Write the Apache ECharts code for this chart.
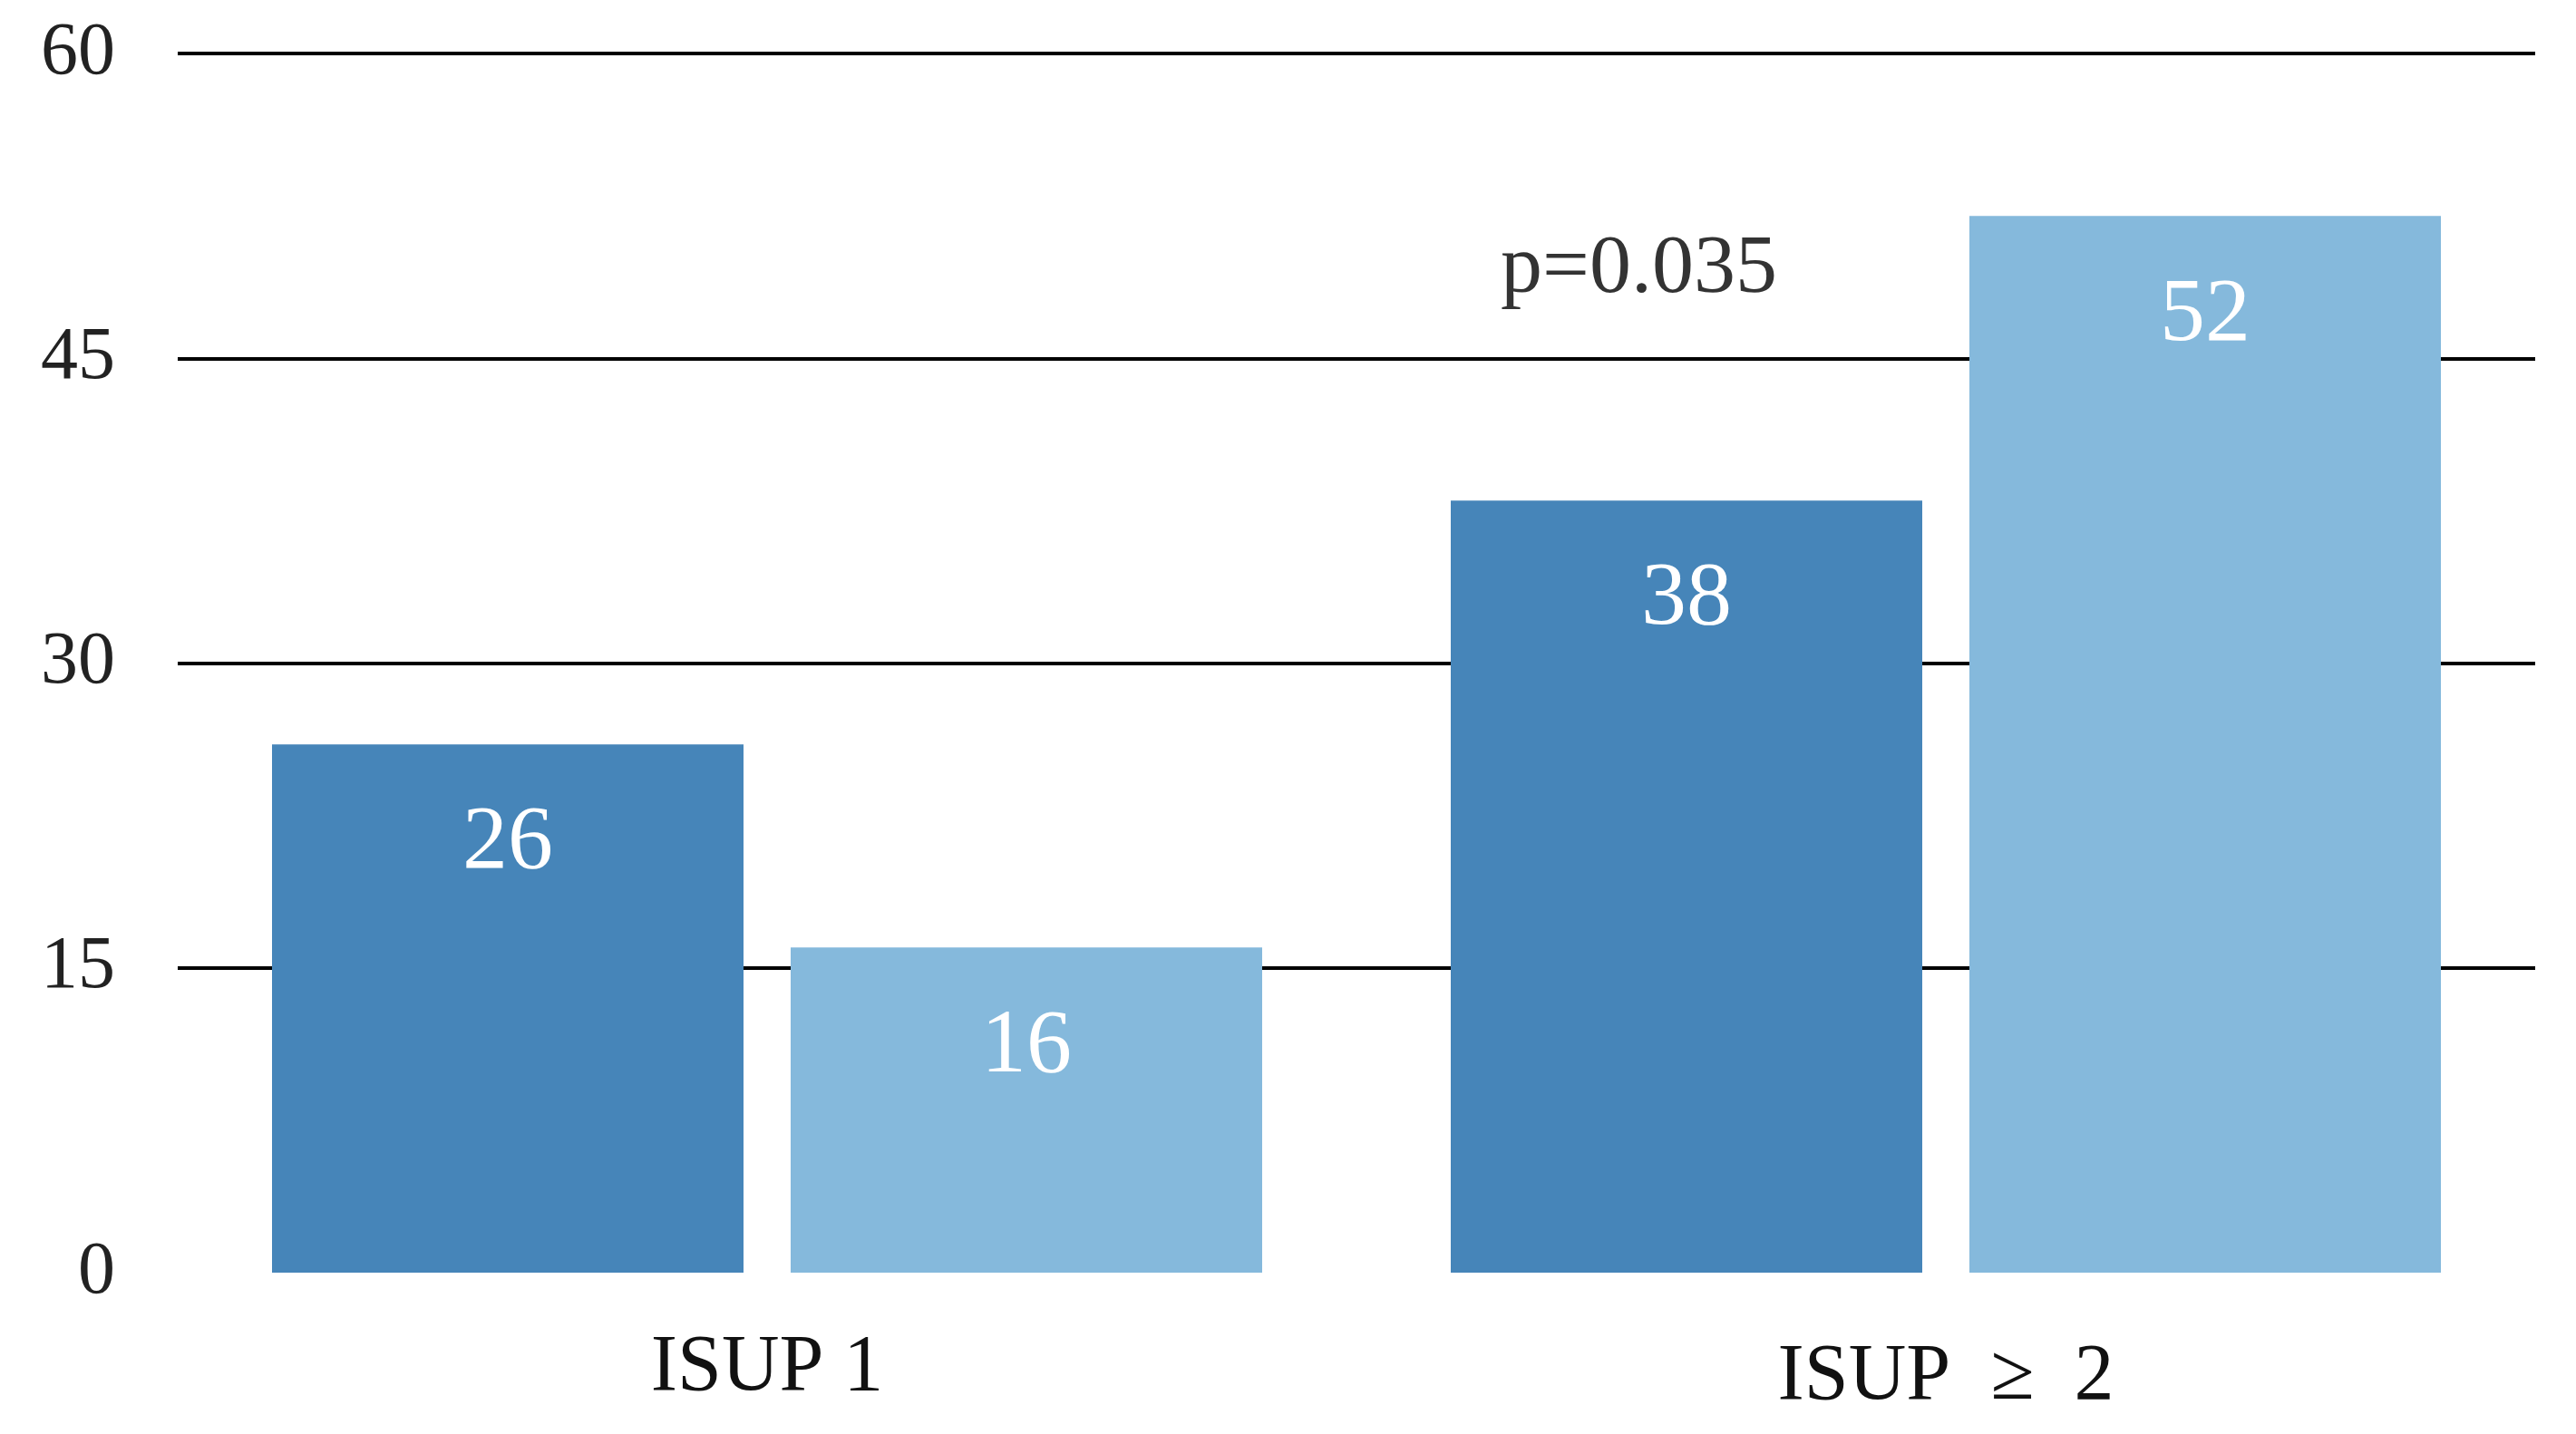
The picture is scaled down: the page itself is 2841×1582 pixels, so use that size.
<!DOCTYPE html>
<html>
<head>
<meta charset="utf-8">
<script src="https://cdn.jsdelivr.net/npm/echarts@6/dist/echarts.min.js"></script>
<style>
  html, body { margin: 0; padding: 0; background: #fff; }
  #chart1 { width: 2841px; height: 1582px; }
</style>
</head>
<body>
<div id="chart1"></div>
<script>
// 数据
var categories = ['ISUP 1', 'ISUP  ≥  2'];
var seriesA = [26, 38];
var seriesB = [16, 52];
var yTicks = [0, 15, 30, 45, 60];
var pValueText = 'p=0.035';

document.addEventListener('DOMContentLoaded', function () {
  var myChart = echarts.init(document.getElementById('chart1'));
  var font = '"Liberation Serif", "DejaVu Serif", serif';

  var barLabel = {
    show: true,
    position: 'insideTop',
    distance: 60,
    color: '#ffffff',
    fontSize: 100,
    fontFamily: font
  };

  var option = {
    animation: false,
    backgroundColor: '#ffffff',
    grid: { left: 196, right: 45, top: 59, bottom: 178 },
    xAxis: {
      type: 'category',
      data: [
        categories[0],
        { value: categories[1], textStyle: { padding: [10, 0, 0, 0] } }
      ],
      axisLine: { show: false },
      axisTick: { show: false },
      axisLabel: {
        margin: 62,
        color: '#111',
        fontSize: 88,
        fontFamily: font
      }
    },
    yAxis: {
      type: 'value',
      min: yTicks[0],
      max: yTicks[yTicks.length - 1],
      interval: 15,
      axisLine: { show: false },
      axisTick: { show: false },
      axisLabel: {
        margin: 69,
        color: '#222',
        fontSize: 82,
        fontFamily: font
      },
      splitLine: {
        show: true,
        showMinLine: false,
        lineStyle: { color: '#000', width: 4 }
      }
    },
    series: [
      {
        name: 'A',
        type: 'bar',
        data: seriesA,
        barWidth: '40%',
        barGap: '10%',
        itemStyle: { color: '#4685b9' },
        label: barLabel
      },
      {
        name: 'B',
        type: 'bar',
        data: seriesB,
        barWidth: '40%',
        barGap: '10%',
        itemStyle: { color: '#85b9dc' },
        label: barLabel
      }
    ],
    graphic: [
      {
        type: 'text',
        left: 1655,
        top: 252,
        style: {
          text: pValueText,
          fill: '#333',
          fontSize: 92,
          fontFamily: font
        }
      }
    ]
  };

  myChart.setOption(option);
});
</script>
</body>
</html>
